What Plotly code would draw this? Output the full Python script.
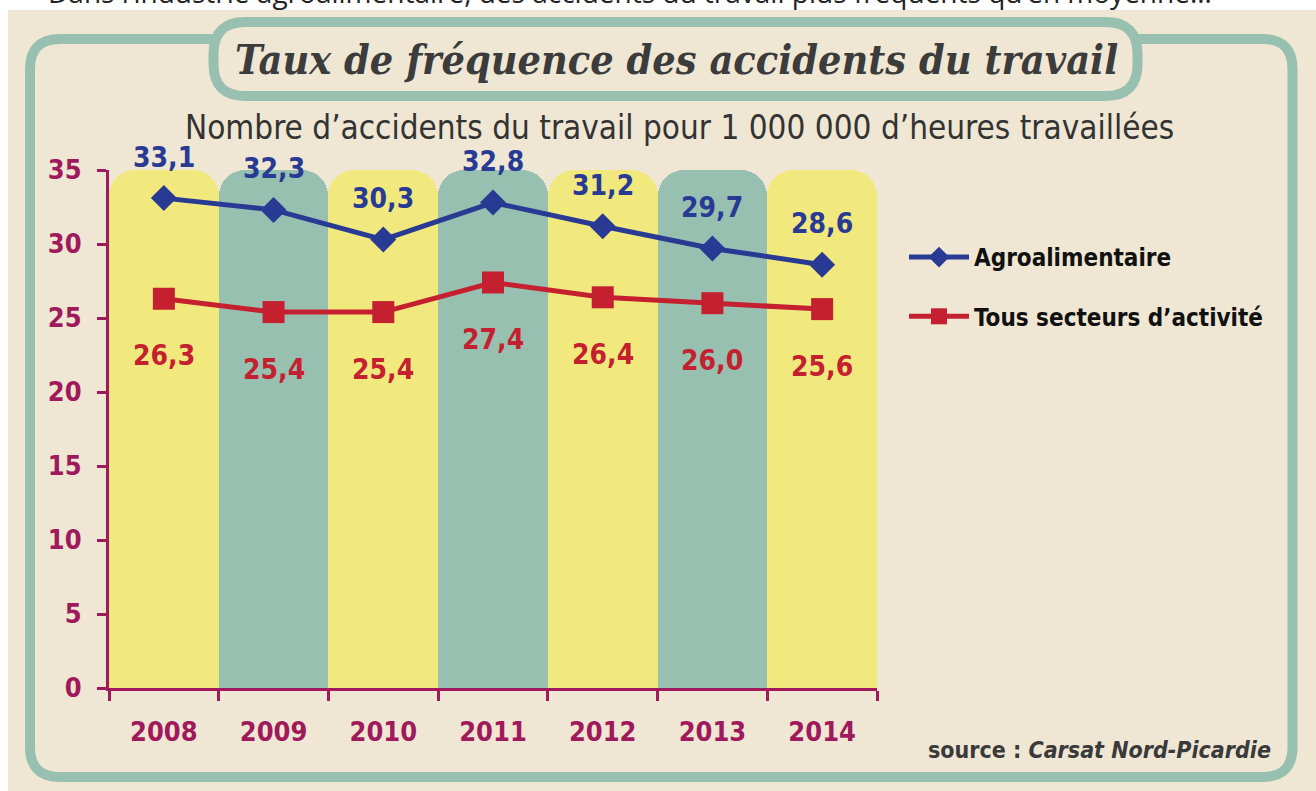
import plotly.graph_objects as go

# ---- data ----
years = ["2008", "2009", "2010", "2011", "2012", "2013", "2014"]
agro = [33.1, 32.3, 30.3, 32.8, 31.2, 29.7, 28.6]
tous = [26.3, 25.4, 25.4, 27.4, 26.4, 26.0, 25.6]
band_top = [35, 35, 35, 35, 35, 35, 35]
band_colors = ["#F2E97E", "#97C0B0", "#F2E97E", "#97C0B0", "#F2E97E", "#97C0B0", "#F2E97E"]
y_ticks = [0, 5, 10, 15, 20, 25, 30, 35]

BEIGE = "#EFE7D3"
TEAL = "#97C0B0"
MAG = "#A0195C"
BLUE = "#283A94"
RED = "#C4202F"
FONT = "Liberation Sans Narrow, DejaVu Sans Condensed, Liberation Sans, sans-serif"

W, H = 1316, 791
ML, MR, MT, MB = 109, 439, 170, 103
PW, PH = W - ML - MR, H - MT - MB


def xp(px):
    return (px - ML) / PW


def yp(py):
    return (H - MB - py) / PH


def rrect(x0, y0, x1, y1, r):
    pts = [
        ("M", [(x0 + r, y0)]), ("L", [(x1 - r, y0)]), ("Q", [(x1, y0), (x1, y0 + r)]),
        ("L", [(x1, y1 - r)]), ("Q", [(x1, y1), (x1 - r, y1)]), ("L", [(x0 + r, y1)]),
        ("Q", [(x0, y1), (x0, y1 - r)]), ("L", [(x0, y0 + r)]), ("Q", [(x0, y0), (x0 + r, y0)]),
    ]
    s = ""
    for cmd, ps in pts:
        s += cmd + " ".join(f"{xp(a):.5f},{yp(b):.5f}" for a, b in ps) + " "
    return s + "Z"


fig = go.Figure()

fig.add_trace(go.Bar(
    x=years, y=band_top, width=1, marker=dict(color=band_colors, line=dict(width=0), cornerradius=26),
    showlegend=False, hoverinfo="skip",
))

fig.add_trace(go.Scatter(
    x=years, y=agro, mode="lines+markers", name="Agroalimentaire",
    line=dict(color=BLUE, width=5), marker=dict(symbol="diamond", size=20, color=BLUE),
    legendgroup="a",
))
fig.add_trace(go.Scatter(
    x=years, y=tous, mode="lines+markers", name="Tous secteurs d’activité",
    line=dict(color=RED, width=5), marker=dict(symbol="square", size=22, color=RED),
    legendgroup="b",
))

annotations = []
for i, v in enumerate(agro):
    annotations.append(dict(x=i, y=v, xref="x", yref="y", text=f"{v:.1f}".replace(".", ","),
                            showarrow=False, yshift=41, xanchor="center", yanchor="middle",
                            font=dict(family=FONT, size=28, color=BLUE, weight="bold")))
for i, v in enumerate(tous):
    annotations.append(dict(x=i, y=v, xref="x", yref="y", text=f"{v:.1f}".replace(".", ","),
                            showarrow=False, yshift=-57, xanchor="center", yanchor="middle",
                            font=dict(family=FONT, size=28, color=RED, weight="bold")))

# title
annotations.append(dict(x=xp(676), y=yp(60), xref="paper", yref="paper", showarrow=False,
                        xanchor="center", yanchor="middle",
                        text="<i><b>Taux de fréquence des accidents du travail</b></i>",
                        font=dict(family="DejaVu Serif Condensed, DejaVu Serif, serif", size=41, color="#3C3C3C")))
# subtitle
annotations.append(dict(x=xp(679), y=yp(127), xref="paper", yref="paper", showarrow=False,
                        xanchor="center", yanchor="middle",
                        text="Nombre d’accidents du travail pour 1 000 000 d’heures travaillées",
                        font=dict(family=FONT, size=33, color="#333333")))
# cut-off top line
annotations.append(dict(x=xp(630), y=yp(-8), xref="paper", yref="paper", showarrow=False,
                        xanchor="center", yanchor="middle",
                        text="Dans l’industrie agroalimentaire, des accidents du travail plus fréquents qu’en moyenne…",
                        font=dict(family="Open Sans, sans-serif", size=28, color="#222222")))
# source
annotations.append(dict(x=xp(1273), y=yp(750), xref="paper", yref="paper", showarrow=False,
                        xanchor="right", yanchor="middle",
                        text="<b>source : <i>Carsat Nord-Picardie</i></b>",
                        font=dict(family=FONT, size=23, color="#3A3A3A")))

shapes = [
    dict(type="rect", xref="paper", yref="paper", x0=xp(8), x1=xp(1316), y0=yp(10), y1=yp(791),
         fillcolor=BEIGE, line=dict(width=0), layer="below"),
    dict(type="path", xref="paper", yref="paper", path=rrect(30, 39, 1292.5, 777, 30),
         line=dict(color=TEAL, width=10), fillcolor="rgba(0,0,0,0)", layer="below"),
    dict(type="path", xref="paper", yref="paper", path=rrect(213.5, 22, 1137.5, 96, 32),
         line=dict(color=TEAL, width=10), fillcolor=BEIGE, layer="below"),
]

fig.update_layout(
    width=W, height=H,
    margin=dict(l=ML, r=MR, t=MT, b=MB),
    paper_bgcolor="white", plot_bgcolor="rgba(0,0,0,0)",
    bargap=0,
    font=dict(family=FONT),
    annotations=annotations,
    shapes=shapes,
    legend=dict(x=xp(904), y=yp(235), xanchor="left", yanchor="top",
                font=dict(family=FONT, size=24, color="#111111", weight="bold"),
                bgcolor="rgba(0,0,0,0)", tracegroupgap=25, itemwidth=60),
    xaxis=dict(type="category", showline=True, linecolor=MAG, linewidth=3,
               ticks="outside", tickson="boundaries", ticklen=10, tickwidth=3, tickcolor=MAG,
               tickfont=dict(family=FONT, size=27, color=MAG, weight="bold"),
               ticklabelstandoff=18,
               showgrid=False, zeroline=False, range=[-0.5, 6.5], fixedrange=True),
    yaxis=dict(range=[0, 35], tickvals=y_ticks, showline=True, linecolor=MAG, linewidth=3,
               ticks="outside", ticklen=9, tickwidth=3, tickcolor=MAG,
               tickfont=dict(family=FONT, size=27, color=MAG, weight="bold"),
               ticklabelstandoff=10,
               showgrid=False, zeroline=False, fixedrange=True),
)

fig.write_html("out.html", config={"displayModeBar": False},
               post_script="document.body.style.margin='0';")
